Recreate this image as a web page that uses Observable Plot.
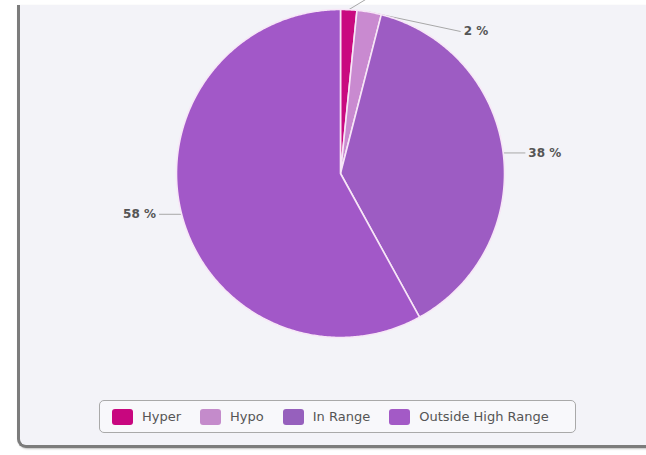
<!DOCTYPE html>
<html>
<head>
<meta charset="utf-8">
<script src="https://cdn.jsdelivr.net/npm/d3@7"></script>
<script src="https://cdn.jsdelivr.net/npm/@observablehq/plot@0.6"></script>
<style>
  html, body { margin: 0; padding: 0; }
  body { width: 646px; height: 455px; background: #ffffff; position: relative; overflow: hidden; font-family: "DejaVu Sans", sans-serif; }
  #frame { position: absolute; left: 17px; top: 5px; width: 700px; height: 440px; background: #f3f3f8;
           border-left: 3px solid #7c7c7c; border-bottom: 3px solid #7c7c7c; border-radius: 0 0 0 9px;
           box-shadow: 1px 1px 2px rgba(0,0,0,0.25); }
  #chart { position: absolute; left: 0; top: 0; }
  #legend { position: absolute; left: 99px; top: 400px; width: 477px; height: 33px; box-sizing: border-box;
            border: 1px solid #a9a9a9; border-radius: 5px; background: #f8f8fb;
            display: flex; align-items: center; padding-left: 12px; font-size: 13px; color: #555; }
  .item { display: flex; align-items: center; margin-right: 19px; }
  .sw { width: 21px; height: 16px; border-radius: 3px; margin-right: 9px; }
</style>
</head>
<body>
<div id="frame"></div>
<div id="chart"></div>
<div id="legend"></div>
<script>
const categories = ["Hyper", "Hypo", "In Range", "Outside High Range"];
const values = [1.6, 2.4, 38, 58];
const labels = ["2 %", "2 %", "38 %", "58 %"];
const colors = ["#c90a80", "#c98ad0", "#9d5cc3", "#a258c8"];
const legendColors = ["#c8077f", "#c48bcb", "#9660bd", "#a35ac6"];

// layout (pixels)
const W = 646, H = 395, CX = 340, CY = 173, R = 164;
const labelGap = 22 / R;          // label circle offset (data units, pie radius = 1)
const minLabelTop = (CY - 31) / R; // highest visible label line
const spacing = 40 / R;            // min vertical distance between labels

const arcs = d3.pie().sort(null).value(d => d)(values);

// slice polygons
const slicePts = [];
arcs.forEach((a, i) => {
  slicePts.push({name: categories[i], x: 0, y: 0});
  const n = Math.max(4, Math.ceil((a.endAngle - a.startAngle) / (Math.PI / 360)));
  for (let k = 0; k <= n; k++) {
    const t = a.startAngle + (a.endAngle - a.startAngle) * k / n;
    slicePts.push({name: categories[i], x: Math.sin(t), y: Math.cos(t)});
  }
});

// labels (Highcharts-like placement)
const labs = arcs.map((a, i) => {
  const m = (a.startAngle + a.endAngle) / 2;
  return {i, m, ex: Math.sin(m), ey: Math.cos(m), right: Math.sin(m) >= 0, text: labels[i]};
});
const right = labs.filter(d => d.right).sort((a, b) => a.m - b.m);
right.forEach(d => d.ly = Math.min(d.ey, minLabelTop));
for (let k = right.length - 2; k >= 0; k--) {
  right[k].ly = Math.max(right[k].ly, right[k + 1].ly + spacing);
}
labs.filter(d => !d.right).forEach(d => d.ly = d.ey);
labs.forEach(d => {
  const rr = 1 + labelGap;
  const dx = Math.sqrt(Math.max(0, rr * rr - d.ly * d.ly));
  d.lx = d.right ? dx : -dx;
});
// labels pushed above the visible top are not drawn (only their connector shows)
const shown = labs.filter(d => d.ly * R < CY - 8);

const textStyle = {x: "lx", y: "ly", text: "text", fill: "#555", fontSize: 12, fontWeight: "bold", fontFamily: "DejaVu Sans"};

const chart = Plot.plot({
  width: W, height: H, margin: 0,
  x: {domain: [-CX / R, (W - CX) / R], axis: null},
  y: {domain: [-(H - CY) / R, CY / R], axis: null},
  color: {domain: categories, range: colors},
  style: {background: "transparent", overflow: "hidden"},
  marks: [
    Plot.link(labs, {x1: "ex", y1: "ey", x2: "lx", y2: "ly", stroke: "#a8a8a8", strokeWidth: 1}),
    Plot.line(slicePts, {x: "x", y: "y", z: "name", fill: "name", stroke: "#f7e6f7", strokeWidth: 1.6, curve: "linear-closed"}),
    Plot.text(shown.filter(d => d.right), {...textStyle, textAnchor: "start", dx: 3}),
    Plot.text(shown.filter(d => !d.right), {...textStyle, textAnchor: "end", dx: -3})
  ]
});
document.getElementById("chart").appendChild(chart);

const legend = document.getElementById("legend");
categories.forEach((c, i) => {
  const it = document.createElement("div");
  it.className = "item";
  const sw = document.createElement("div");
  sw.className = "sw";
  sw.style.background = legendColors[i];
  const tx = document.createElement("span");
  tx.textContent = c;
  it.appendChild(sw); it.appendChild(tx);
  legend.appendChild(it);
});
</script>
</body>
</html>
